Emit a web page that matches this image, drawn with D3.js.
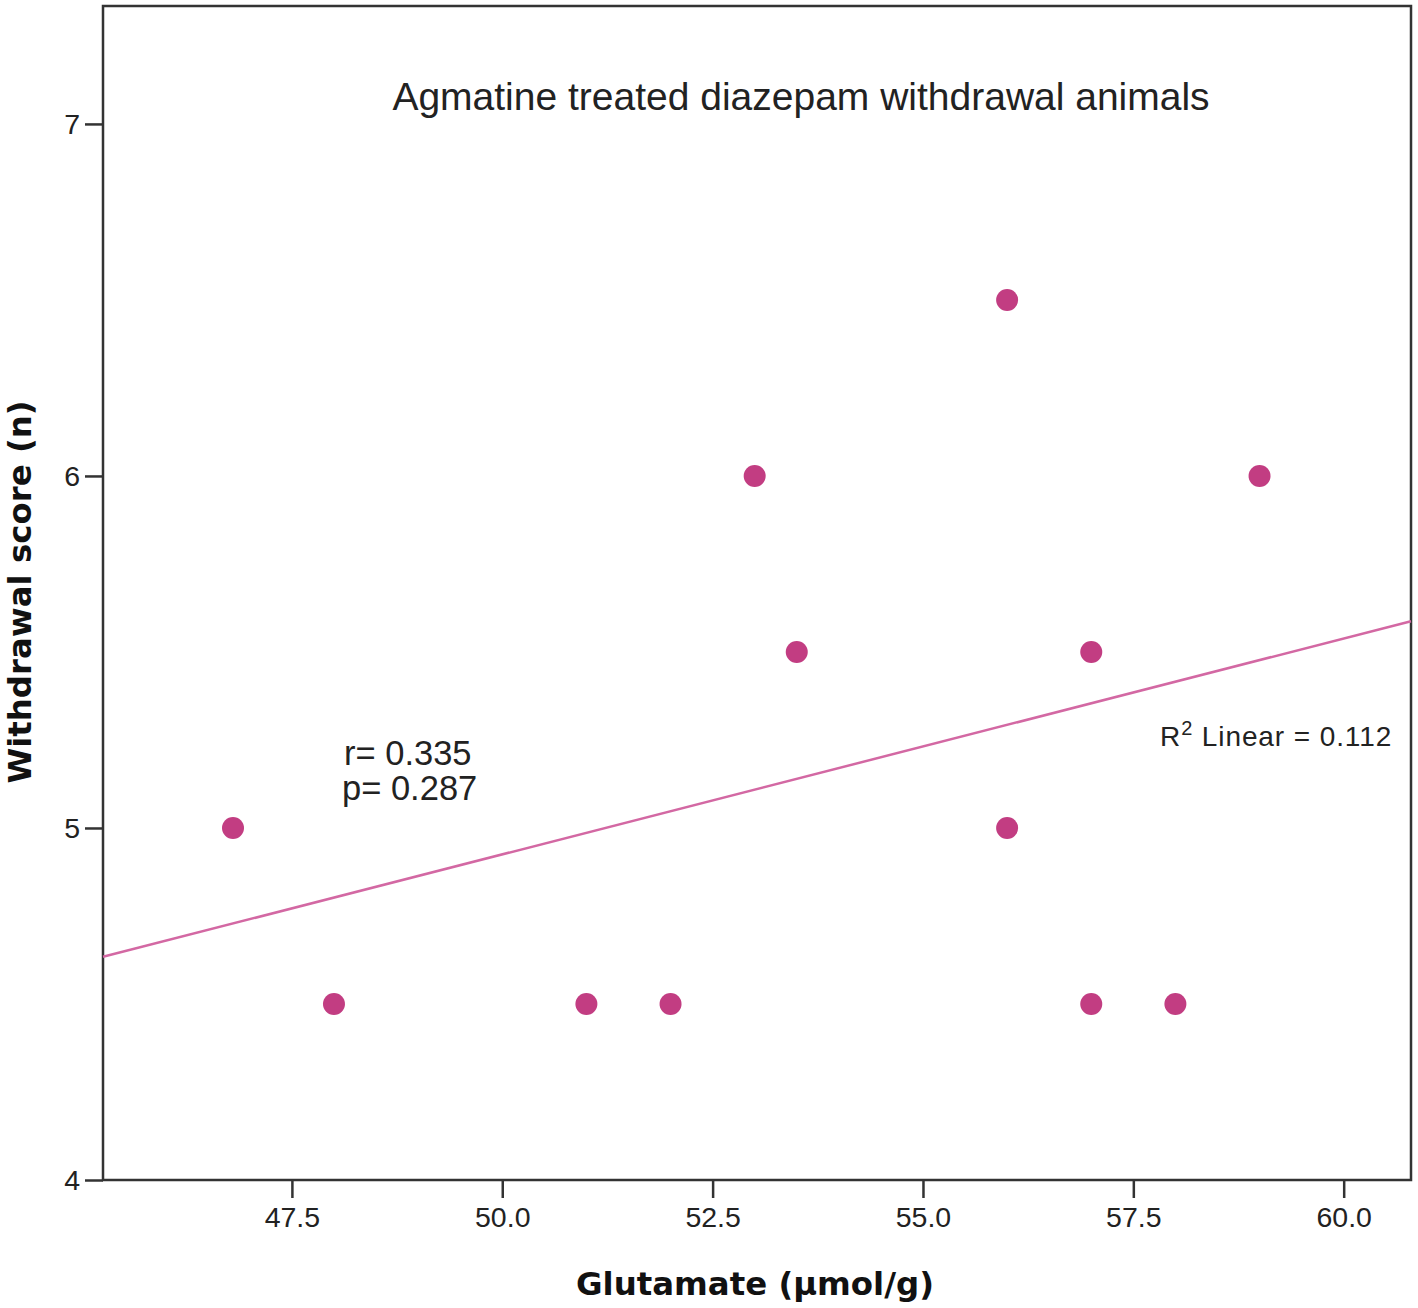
<!DOCTYPE html>
<html>
<head>
<meta charset="utf-8">
<script src="https://cdn.jsdelivr.net/npm/d3@7"></script>
<style>
  body { margin: 0; background: #fff; }
  svg { display: block; }
</style>
</head>
<body>
<div id="chart"></div>
<script>
// Glutamate (µmol/g) vs withdrawal score
const glutamate = [46.8, 48, 51, 52, 53, 53.5, 56, 56, 57, 57, 58, 59]
const withdrawal = [5, 4.5, 4.5, 4.5, 6, 5.5, 6.5, 5, 5.5, 4.5, 4.5, 6]
const xTicks = [47.5, 50.0, 52.5, 55.0, 57.5, 60.0]
const yTicks = [4, 5, 6, 7]
const xDomain = [45.255, 60.8]
const yDomain = [4, 7.335]

const width = 1418, height = 1308
const margin = { top: 6, right: 7, bottom: 128, left: 103 }

const svg = d3.select("#chart")
  .append("svg")
  .attr("width", width)
  .attr("height", height)

const x = d3.scaleLinear().domain(xDomain).range([margin.left, width - margin.right])
const y = d3.scaleLinear().domain(yDomain).range([height - margin.bottom, margin.top])

const axisColor = "#333"
const pink = "#c23d82"
const sans = "'Liberation Sans', Arial, sans-serif"

// frame
svg.append("rect")
  .attr("x", margin.left)
  .attr("y", margin.top)
  .attr("width", width - margin.left - margin.right)
  .attr("height", height - margin.bottom - margin.top)
  .attr("fill", "none")
  .attr("stroke", axisColor)
  .attr("stroke-width", 2.5)

const xAxis = svg.append("g")
  .attr("transform", `translate(0,${height - margin.bottom})`)
  .call(d3.axisBottom(x).tickValues(xTicks).tickFormat(d3.format(".1f")).tickSize(18).tickPadding(9))
xAxis.select(".domain").remove()

const yAxis = svg.append("g")
  .attr("transform", `translate(${margin.left},0)`)
  .call(d3.axisLeft(y).tickValues(yTicks).tickFormat(d3.format("d")).tickSize(18).tickPadding(5))
yAxis.select(".domain").remove()

svg.selectAll(".tick line").attr("stroke", axisColor).attr("stroke-width", 2.5)
svg.selectAll(".tick text")
  .attr("fill", "#222")
  .style("font-family", sans)
  .style("font-size", "28.5px")

// fit line
const mx = d3.mean(glutamate), my = d3.mean(withdrawal)
const sxy = d3.sum(glutamate, (g, i) => (g - mx) * (withdrawal[i] - my))
const sxx = d3.sum(glutamate, g => (g - mx) ** 2)
const slope = sxy / sxx
const intercept = my - slope * mx

svg.append("line")
  .attr("x1", x(xDomain[0]))
  .attr("y1", y(intercept + slope * xDomain[0]))
  .attr("x2", x(xDomain[1]))
  .attr("y2", y(intercept + slope * xDomain[1]))
  .attr("stroke", "#d368a3")
  .attr("stroke-width", 2.5)

svg.append("g")
  .selectAll("circle")
  .data(glutamate.map((g, i) => [g, withdrawal[i]]))
  .join("circle")
  .attr("cx", d => x(d[0]))
  .attr("cy", d => y(d[1]))
  .attr("r", 11)
  .attr("fill", pink)

// texts
svg.append("text")
  .attr("x", 801).attr("y", 110)
  .attr("text-anchor", "middle")
  .style("font-family", sans).style("font-size", "39px")
  .attr("fill", "#222")
  .text("Agmatine treated diazepam withdrawal animals")

svg.append("text")
  .attr("x", 344).attr("y", 765)
  .style("font-family", sans).style("font-size", "34.5px")
  .attr("fill", "#222")
  .text("r= 0.335")
svg.append("text")
  .attr("x", 342).attr("y", 800)
  .style("font-family", sans).style("font-size", "34.5px")
  .attr("fill", "#222")
  .text("p= 0.287")

const r2 = svg.append("text")
  .attr("x", 1160).attr("y", 746)
  .style("font-family", sans).style("font-size", "28px")
  .style("letter-spacing", "0.9px")
  .attr("fill", "#222")
r2.append("tspan").text("R")
r2.append("tspan").attr("dy", -11).style("font-size", "20px").text("2")
r2.append("tspan").attr("dy", 11).text(" Linear = 0.112")

svg.append("text")
  .attr("x", 755).attr("y", 1295)
  .attr("text-anchor", "middle")
  .style("font-family", "'DejaVu Sans', Verdana, sans-serif")
  .style("font-weight", "bold").style("font-size", "32.4px")
  .attr("fill", "#111")
  .text("Glutamate (µmol/g)")

svg.append("text")
  .attr("transform", "translate(31,592) rotate(-90)")
  .attr("text-anchor", "middle")
  .style("font-family", "'DejaVu Sans', Verdana, sans-serif")
  .style("font-weight", "bold").style("font-size", "32.4px")
  .attr("fill", "#111")
  .text("Withdrawal score (n)")
</script>
</body>
</html>
